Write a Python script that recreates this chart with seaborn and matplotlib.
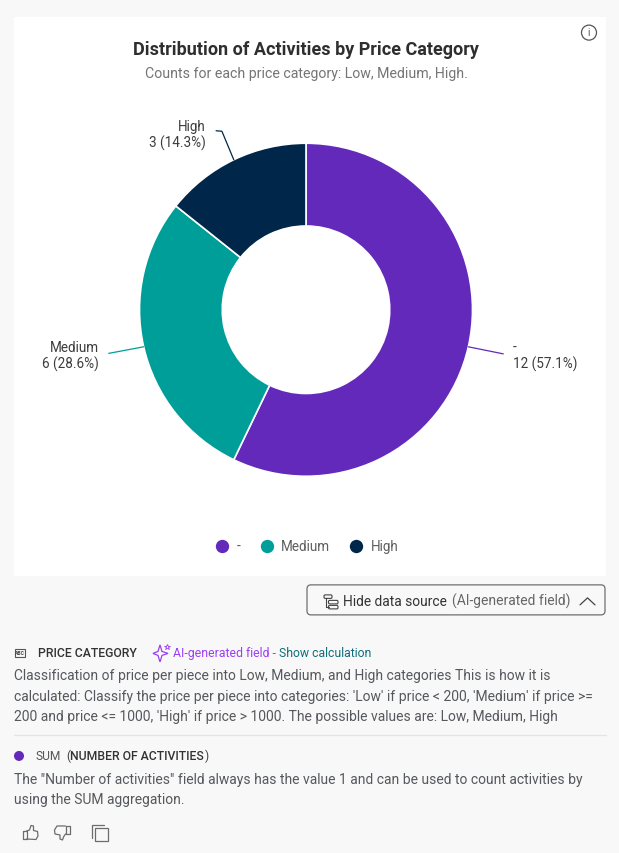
import numpy as np
import matplotlib
matplotlib.use("Agg")
import matplotlib.pyplot as plt
from matplotlib.lines import Line2D
from matplotlib.patches import Circle, FancyBboxPatch, Rectangle, Polygon
import seaborn as sns

# Chart data
categories = ["-", "Medium", "High"]
counts = [12, 6, 3]
percent_labels = ["57.1%", "28.6%", "14.3%"]
palette = ["#6229BA", "#009E99", "#00274A"]

title = "Distribution of Activities by Price Category"
subtitle = "Counts for each price category: Low, Medium, High."

field_lines = [
    "Classification of price per piece into Low, Medium, and High categories This is how it is",
    "calculated: Classify the price per piece into categories: 'Low' if price < 200, 'Medium' if price >=",
    "200 and price <= 1000, 'High' if price > 1000. The possible values are: Low, Medium, High",
]
metric_lines = [
    'The "Number of activities" field always has the value 1 and can be used to count activities by',
    "using the SUM aggregation.",
]

W, H = 619, 853
PAGE = "#F8F8F8"
DARK = "#2E2E2E"
BODY = "#55585C"

sns.set_theme(style="white")
plt.rcParams["font.family"] = ["Roboto", "DejaVu Sans"]
sns.set_palette(palette)


def px(size):
    """Font size in points for a height given in figure pixels."""
    return size * 0.72


fig = plt.figure(figsize=(W / 100, (H + 0.4) / 100), dpi=100, facecolor=PAGE)

# Page layer measured in pixels, origin at the top left
page = fig.add_axes([0, 0, 1, 1], zorder=0)
page.set_xlim(0, W)
page.set_ylim(H, 0)
page.axis("off")
page.add_patch(Rectangle((14, 17), 592, 559, fc="white", ec="none"))

page.text(306, 49.5, title, ha="center", va="center", fontsize=px(17.95),
          fontweight="bold", color=DARK)
page.text(306, 73.5, subtitle, ha="center", va="center", fontsize=px(14.1), color="#757575")

# Info icon
page.add_patch(Circle((589, 33), 7.5, fc="none", ec="#555555", lw=0.9))
page.text(589, 33, "i", ha="center", va="center", fontsize=px(10), color="#555555")

# Donut
cx, cy, radius = 306, 310, 166.5
donut = fig.add_axes([(cx - radius) / W, 1 - (cy + radius) / H, 2 * radius / W, 2 * radius / H],
                     zorder=1)
wedges, _ = donut.pie(counts, colors=sns.color_palette(), startangle=90, counterclock=False,
                      radius=1, wedgeprops=dict(width=0.497, edgecolor="white", linewidth=1.2))
donut.set_xlim(-1, 1)
donut.set_ylim(-1, 1)
donut.set_aspect("equal")
donut.patch.set_alpha(0)
for w in wedges:
    w.set_clip_on(False)

# Leader lines and value labels, anchored at each slice's mid angle
elbows = {"-": [(1.185, -0.265)],
          "Medium": [(-1.185, -0.262)],
          "High": [(-0.505, 1.072), (-0.54, 1.075)]}
label_xy = {"-": (513, 356), "Medium": (99, 356), "High": (206, 135)}
aligns = {"-": "left", "Medium": "right", "High": "right"}
for wedge, name, count, pct, colour in zip(wedges, categories, counts, percent_labels, palette):
    mid = np.deg2rad((wedge.theta1 + wedge.theta2) / 2)
    path = [(np.cos(mid), np.sin(mid))] + elbows[name]
    xs, ys = zip(*path)
    donut.add_line(Line2D(xs, ys, color=colour, lw=0.9, clip_on=False))
    x, y = label_xy[name]
    page.text(x, y - 8, name, ha=aligns[name], va="center", fontsize=px(13.5), color="#3C3C3C")
    page.text(x, y + 8, f"{count} ({pct})", ha=aligns[name], va="center",
              fontsize=px(13.5), color="#3C3C3C")

# Legend under the donut
handles = [Line2D([], [], ls="none", marker="o", ms=9.6, mfc=c, mec="none") for c in palette]
legend = page.legend(handles, categories, loc="center", bbox_to_anchor=(307 / W, 1 - 546.5 / H),
                     bbox_transform=fig.transFigure, ncol=3, frameon=False, fontsize=px(13.5),
                     handletextpad=0.57, columnspacing=1.42, handlelength=1.0, labelcolor="#5E5E5E")

# Data source button
page.add_patch(FancyBboxPatch((307, 585), 298, 30, boxstyle="round,pad=0,rounding_size=4",
                              fc="none", ec="#6F6F6F", lw=0.9))
for x0, y0, bw in ((324, 595, 8), (328.5, 600.5, 9.5), (328.5, 605.5, 9.5)):
    page.add_patch(FancyBboxPatch((x0, y0), bw, 3.5, boxstyle="round,pad=0,rounding_size=1.2",
                                  fc="none", ec="#444444", lw=0.8))
page.plot([326, 326, 328.5], [598.5, 607, 607], color="#444444", lw=0.8)
page.text(343, 601.5, "Hide data source", ha="left", va="center", fontsize=px(13.8), color="#333333")
page.text(452, 601.5, "(AI-generated field)", ha="left", va="center", fontsize=px(13.95), color="#666666")
page.plot([580, 587.5, 595], [605, 598, 605], color="#444444", lw=0.9)

# Field description
page.add_patch(Rectangle((14.5, 649), 10.5, 8, fc="none", ec="#555555", lw=0.8))
page.text(19.8, 653.1, "ABC", ha="center", va="center", fontsize=3.6, color="#444444", fontweight="bold")
page.text(38, 653, "PRICE CATEGORY", ha="left", va="center", fontsize=px(12.2), color="#333333",
          fontweight="medium")
star = [(160, 645), (162, 651.5), (168, 653.5), (162, 655.5), (160, 662), (158, 655.5), (153, 653.5), (158, 651.5)]
page.add_patch(Polygon(star, closed=True, fc="none", ec="#9B3DF5", lw=0.9))
page.plot([167], [647], marker="*", ms=4.2, mfc="none", mec="#9B3DF5", mew=0.6)
page.text(173, 653, "AI-generated field -", ha="left", va="center", fontsize=px(12.3), color="#9B3DF5")
page.text(279, 653, "Show calculation", ha="left", va="center", fontsize=px(12.3), color="#0F6E7A")
for line, y in zip(field_lines, (676, 696.5, 717)):
    page.text(14, y, line, ha="left", va="center", fontsize=px(13.95), color=BODY)

page.plot([14, 606], [735, 735], color="#E4E4E4", lw=0.9)

# Metric description
page.add_patch(Circle((19, 756), 5, fc=palette[0], ec="none"))
page.text(36, 756, "SUM", ha="left", va="center", fontsize=px(12), color="#555555")
page.text(66, 756, "(", ha="left", va="center", fontsize=px(12), color="#444444")
page.text(69.5, 756, "NUMBER OF ACTIVITIES", ha="left", va="center", fontsize=px(12.3), color="#333333",
          fontweight="medium")
page.text(205, 756, ")", ha="left", va="center", fontsize=px(12), color="#444444")
for line, y in zip(metric_lines, (779.5, 800)):
    page.text(14, y, line, ha="left", va="center", fontsize=px(13.95), color=BODY)

# Feedback icons
icon = dict(color="#6A6D70", lw=0.9)
page.plot([22.5, 22.5, 26.5, 26.5, 22.5], [831, 839, 839, 831, 831], **icon)
page.plot([26.5, 29.5, 31, 33.5, 33.5, 37.5, 38, 36, 26.5], [831, 830, 825.5, 826, 830.5, 831.5, 836, 839.5, 839], **icon)
page.plot([65.5, 65.5, 70, 70, 65.5], [826, 834, 834, 826, 826], **icon)
page.plot([65.5, 57, 54.5, 55, 60, 60, 62.5, 63.5, 65.5], [826, 826, 830, 834, 835, 839, 840, 837, 834], **icon)
page.add_patch(Rectangle((95, 828), 13, 13, fc="none", ec="#6A6D70", lw=0.9))
page.plot([92, 92, 104], [838, 825, 825], **icon)

fig.savefig("out.png", dpi=100, facecolor=PAGE)
